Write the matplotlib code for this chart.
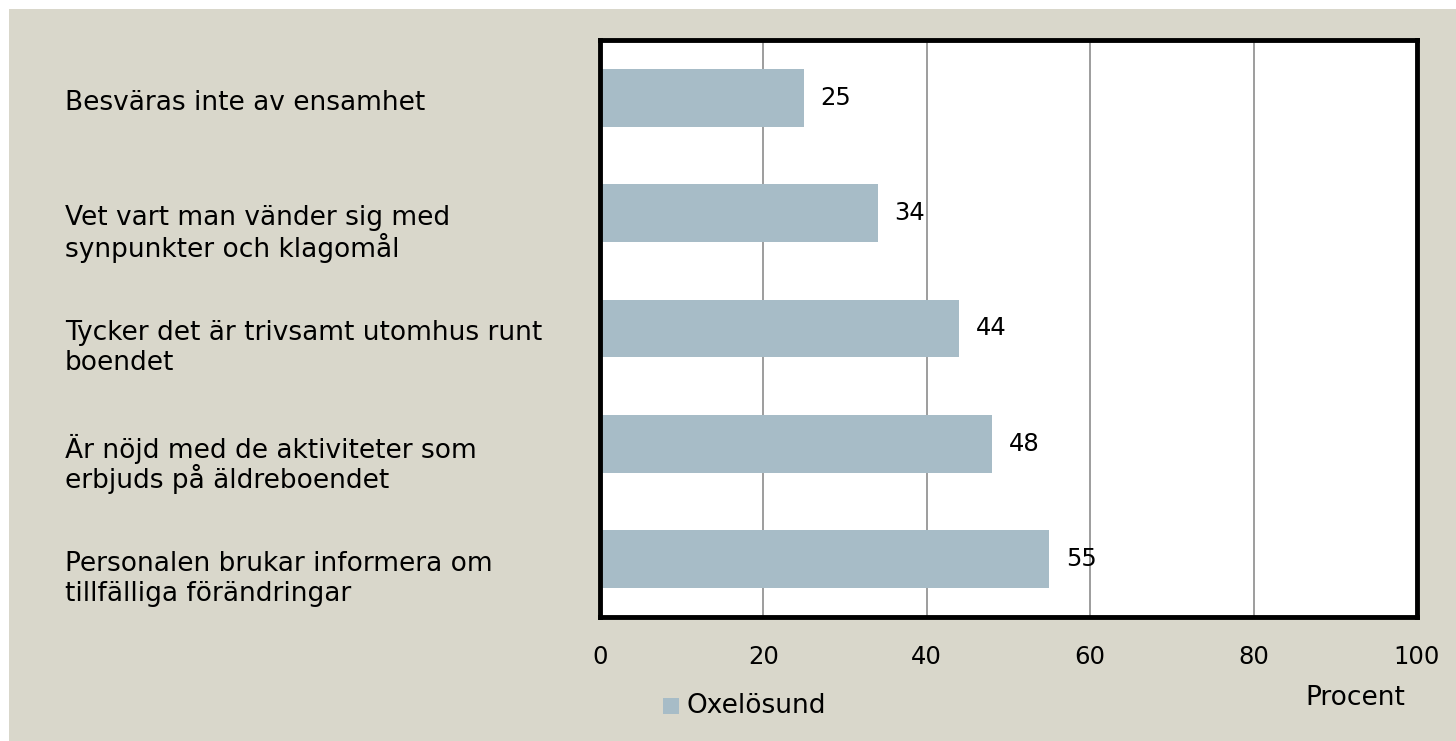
import matplotlib.pyplot as plt
import matplotlib.patches as mpatches

categories = [
    "Besväras inte av ensamhet",
    "Vet vart man vänder sig med\nsynpunkter och klagomål",
    "Tycker det är trivsamt utomhus runt\nboendet",
    "Är nöjd med de aktiviteter som\nerbjuds på äldreboendet",
    "Personalen brukar informera om\ntillfälliga förändringar",
]
values = [25, 34, 44, 48, 55]
xticks = [0, 20, 40, 60, 80, 100]
series_name = "Oxelösund"

bg = "#D9D7CB"
bar_color = "#A7BCC7"
plt.rcParams["font.family"] = ["DejaVu Sans"]
FS = 19
FS_NUM = 17.5

W, H = 1456, 741
fig = plt.figure(figsize=(W / 100, H / 100), dpi=100)
fig.patch.set_facecolor("white")
# beige panel, leaving a thin white strip on top and left
fig.add_artist(mpatches.Rectangle((9 / W, 0), 1, 1 - 9 / H, transform=fig.transFigure,
                                  facecolor=bg, edgecolor="none", zorder=0))

ax = fig.add_axes([600 / W, 1 - 617 / H, (1417 - 600) / W, (617 - 40) / H])
ax.set_facecolor("white")
pos = list(range(len(categories)))
ax.barh(pos, values, height=0.5, color=bar_color, zorder=2)
ax.set_ylim(len(categories) - 0.5, -0.5)
ax.set_xlim(0, 100)
ax.set_xticks(xticks)
ax.set_xticklabels([str(t) for t in xticks], fontsize=FS_NUM)
ax.tick_params(axis="x", length=0, pad=20)
ax.set_yticks([])
ax.grid(axis="x", color="#8c8c8c", linewidth=1.2, zorder=1)
for s in ax.spines.values():
    s.set_linewidth(3.5)
    s.set_color("black")

for p, v in zip(pos, values):
    ax.text(v + 2.0, p, str(v), va="center", ha="left", fontsize=FS_NUM)

# category labels: first line sits near the bar centre, second line below
for p, c in zip(pos, categories):
    for i, line in enumerate(c.split("\n")):
        ax.annotate(line, xy=(0, p), xycoords="data",
                    xytext=(65 - 600, -5 - 30 * i), textcoords="offset pixels",
                    va="center", ha="left", fontsize=FS, annotation_clip=False)

fig.text(1305 / W, 1 - 698 / H, "Procent", fontsize=FS, va="center", ha="left")
fig.add_artist(mpatches.Rectangle((663 / W, 1 - 714 / H), 16 / W, 16 / H,
                                  transform=fig.transFigure, facecolor=bar_color,
                                  edgecolor="none"))
fig.text(686 / W, 1 - 706 / H, series_name, fontsize=FS, va="center", ha="left")

fig.savefig("out.png", dpi=100, facecolor=fig.get_facecolor())
